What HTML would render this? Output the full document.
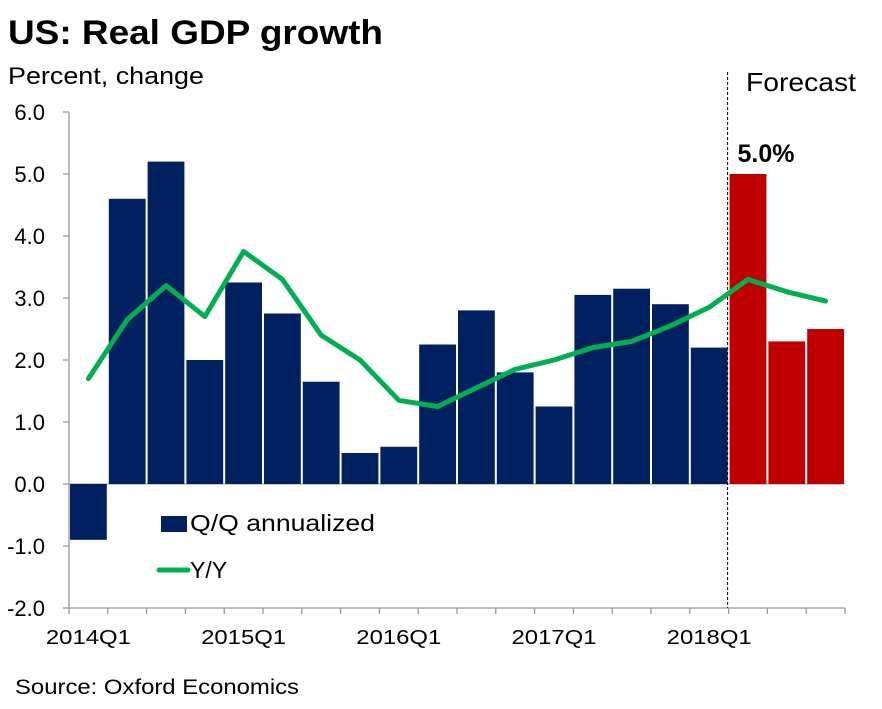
<!DOCTYPE html>
<html><head><meta charset="utf-8"><style>
body{margin:0;background:#fff;width:882px;height:704px;overflow:hidden;font-family:"Liberation Sans",sans-serif}
</style></head><body>
<svg width="882" height="704" xmlns="http://www.w3.org/2000/svg" font-family="Liberation Sans, sans-serif">
<text x="8" y="44" font-size="34" font-weight="bold" fill="#000" textLength="375" lengthAdjust="spacingAndGlyphs">US: Real GDP growth</text>
<text x="8" y="84" font-size="24" fill="#000" textLength="196" lengthAdjust="spacingAndGlyphs">Percent, change</text>
<text x="746" y="91" font-size="26" fill="#000" textLength="110" lengthAdjust="spacingAndGlyphs">Forecast</text>
<text x="15" y="694" font-size="21" fill="#000" textLength="284" lengthAdjust="spacingAndGlyphs">Source: Oxford Economics</text>
<g id="plot"></g>
<g>
<rect x="161" y="516" width="26" height="16" fill="#002060"/>
<text x="190" y="531" font-size="23" fill="#000" textLength="185" lengthAdjust="spacingAndGlyphs">Q/Q annualized</text>
<line x1="159" y1="570" x2="188" y2="570" stroke="#00B050" stroke-width="5" stroke-linecap="round"/>
<text x="190" y="578" font-size="23" fill="#000">Y/Y</text>
</g>
</svg>
<script>
const categories=["2014Q1","2014Q2","2014Q3","2014Q4","2015Q1","2015Q2","2015Q3","2015Q4","2016Q1","2016Q2","2016Q3","2016Q4","2017Q1","2017Q2","2017Q3","2017Q4","2018Q1","2018Q2","2018Q3","2018Q4"];
const qqValues=[-0.9,4.6,5.2,2.0,3.25,2.75,1.65,0.5,0.6,2.25,2.8,1.8,1.25,3.05,3.15,2.9,2.2,5.0,2.3,2.5];
const yyValues=[1.7,2.65,3.2,2.7,3.75,3.3,2.4,2.0,1.35,1.25,1.55,1.85,2.0,2.2,2.3,2.55,2.85,3.3,3.1,2.95];
const forecastFrom=17;
const yTicks=[-2,-1,0,1,2,3,4,5,6];
const xLabels=["2014Q1","2015Q1","2016Q1","2017Q1","2018Q1"];
const ns="http://www.w3.org/2000/svg";
const g=document.getElementById('plot');
const X0=69,STEP=38.8,Y0=484,PU=62;
const x=i=>X0+i*STEP;
const y=v=>Y0-v*PU;
function mk(t,a){const e=document.createElementNS(ns,t);for(const k in a)e.setAttribute(k,a[k]);g.appendChild(e);return e;}
let ax=mk('line',{x1:X0,y1:y(6),x2:X0,y2:y(-2),stroke:'#999','stroke-width':1.3});


yTicks.forEach(v=>{
 let t=mk('line',{x1:X0-6,y1:y(v),x2:X0,y2:y(v),stroke:'#999','stroke-width':1.3});
 
 
 let l=mk('text',{x:X0-24,y:y(v)+8,'font-size':22,'text-anchor':'end',fill:'#000'});
 l.textContent=v.toFixed(1);
 
 
});
let xa=mk('line',{x1:X0,y1:y(-2),x2:x(categories.length),y2:y(-2),stroke:'#999','stroke-width':1.3});


for(let i=0;i<=categories.length;i++){
 let t=mk('line',{x1:x(i),y1:y(-2),x2:x(i),y2:y(-2)+6,stroke:'#999','stroke-width':1.3});
 
 
}
let zl=mk('line',{x1:X0,y1:Y0,x2:x(categories.length),y2:Y0,stroke:'#999','stroke-width':1});


xLabels.forEach(lb=>{
 const i=categories.indexOf(lb);
 let l=mk('text',{x:x(i)+STEP/2,y:y(-2)+36,'font-size':20,'text-anchor':'middle',fill:'#000',textLength:85,lengthAdjust:'spacingAndGlyphs'});
 l.textContent=lb;
 
 
});
qqValues.forEach((v,i)=>{
 let b=mk('rect',{x:x(i)+1,y:Math.min(y(v),Y0),width:STEP-2,height:Math.abs(y(v)-Y0),fill:i>=forecastFrom?'#C00000':'#002060'});
 
 
});
let fl=mk('line',{x1:x(forecastFrom)-1,y1:72,x2:x(forecastFrom)-1,y2:y(-2),stroke:'#000','stroke-width':1,'stroke-dasharray':'3,2'});


const fv=qqValues[forecastFrom];
let vl=mk('text',{x:x(forecastFrom)+STEP/2+18,y:y(fv)-12,'font-size':25,'font-weight':'bold','text-anchor':'middle',fill:'#000'});
vl.textContent=fv.toFixed(1)+'%';


let pts=yyValues.map((v,i)=>(x(i)+STEP/2)+','+y(v)).join(' ');
let pl=mk('polyline',{points:pts,fill:'none',stroke:'#00B050','stroke-width':5,'stroke-linejoin':'round','stroke-linecap':'round'});


</script>
</body></html>
